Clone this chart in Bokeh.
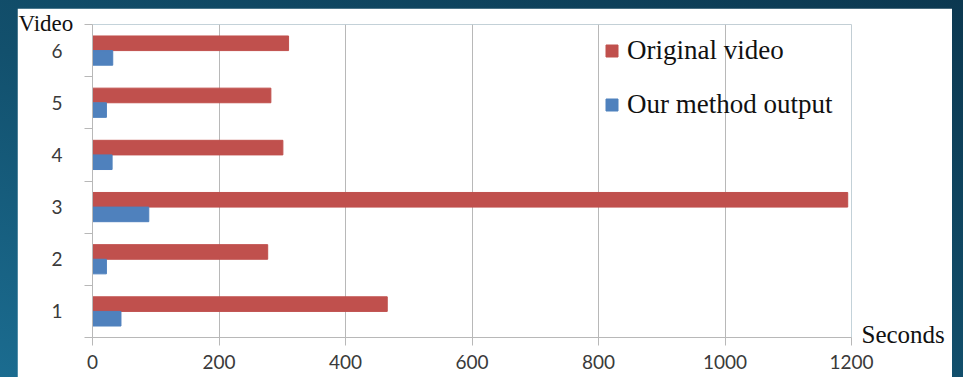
from bokeh.plotting import figure
from bokeh.models import (Range1d, FixedTicker, Legend, LegendItem, ColumnDataSource,
                          LinearAxis, Title)
from bokeh.layouts import column
from bokeh.embed import file_html
from bokeh.resources import INLINE

videos = [1, 2, 3, 4, 5, 6]
video_labels = ["1", "2", "3", "4", "5", "6"]
original = [466, 277, 1194, 301, 282, 310]
ours = [45, 22, 89, 31, 22, 32]
x_ticks = [0, 200, 400, 600, 800, 1000, 1200]
y_title = "Video"
x_title = "Seconds"
series_names = ["Original video", "Our method output"]

RED = "#c0504d"
BLUE = "#4f81bd"
GRID = "#b8b8b8"
off = 0.14
bh = 0.28

src = ColumnDataSource(dict(
    y_orig=[v + off for v in videos],
    y_ours=[v - off for v in videos],
    original=original,
    ours=ours,
))

p = figure(width=935, height=369, output_backend="svg", toolbar_location=None,
           x_range=Range1d(0, 1200), y_range=Range1d(0.5, 6.5),
           min_border_left=75, min_border_right=101, min_border_top=16, min_border_bottom=40,
           margin=(8, 11, 0, 17))
p.outline_line_color = None
p.background_fill_color = "white"
p.border_fill_color = "white"

r1 = p.hbar(y="y_orig", right="original", left=0, height=bh, color=RED, source=src)
r2 = p.hbar(y="y_ours", right="ours", left=0, height=bh, color=BLUE, source=src)

# x axis
xa = p.xaxis[0]
xa.ticker = FixedTicker(ticks=x_ticks)
xa.axis_line_color = GRID
xa.major_tick_line_color = GRID
xa.major_tick_out = 8
xa.major_tick_in = 0
xa.minor_tick_line_color = None
xa.major_label_text_font = "Lato"
xa.major_label_text_font_size = "19px"
xa.major_label_text_color = "#3a3a3a"
xa.major_label_standoff = 9

# y axis
ya = p.yaxis[0]
ya.ticker = FixedTicker(ticks=videos, minor_ticks=[0.5, 1.5, 2.5, 3.5, 4.5, 5.5, 6.5])
ya.major_label_overrides = {v: s for v, s in zip(videos, video_labels)}
ya.axis_line_color = GRID
ya.major_tick_line_color = None
ya.major_tick_out = 0
ya.major_tick_in = 0
ya.minor_tick_line_color = GRID
ya.minor_tick_out = 8
ya.minor_tick_in = 0
ya.major_label_text_font = "Lato"
ya.major_label_text_font_size = "19px"
ya.major_label_text_color = "#3a3a3a"
ya.major_label_standoff = 22

p.xgrid.ticker = FixedTicker(ticks=x_ticks)
p.xgrid.grid_line_color = GRID
p.ygrid.grid_line_color = None

# "Seconds" at the end of the x axis, via a bare right axis with one tick
sec_axis = LinearAxis(ticker=FixedTicker(ticks=[0.56]), major_label_overrides={0.56: x_title},
                      axis_line_color=None, major_tick_line_color=None, minor_tick_line_color=None,
                      major_tick_out=0, major_tick_in=0, major_label_standoff=10,
                      major_label_text_font="Liberation Serif", major_label_text_font_size="25px",
                      major_label_text_color="#111111")
p.add_layout(sec_axis, "right")

# "Video" above the y axis
vt = Title(text=y_title, align="left", offset=-74, vertical_align="bottom",
           text_font="Liberation Serif", text_font_size="23px", text_font_style="normal",
           text_color="#111111", standoff=-22)
p.add_layout(vt, "above")

legend = Legend(items=[LegendItem(label=series_names[0], renderers=[r1]),
                       LegendItem(label=series_names[1], renderers=[r2])],
                location=(512, 217), orientation="vertical",
                glyph_width=15, glyph_height=15, label_standoff=8,
                label_text_font="Liberation Serif", label_text_font_size="27px",
                label_text_color="#111111", label_height=31, spacing=23,
                padding=0, margin=0, border_line_color=None, background_fill_alpha=0)
p.add_layout(legend)

root = column(p, styles={"background": "linear-gradient(200deg, #0c3850 0%, #12506d 55%, #1b6c90 100%)"})

open("out.html", "w").write(file_html(root, INLINE))
